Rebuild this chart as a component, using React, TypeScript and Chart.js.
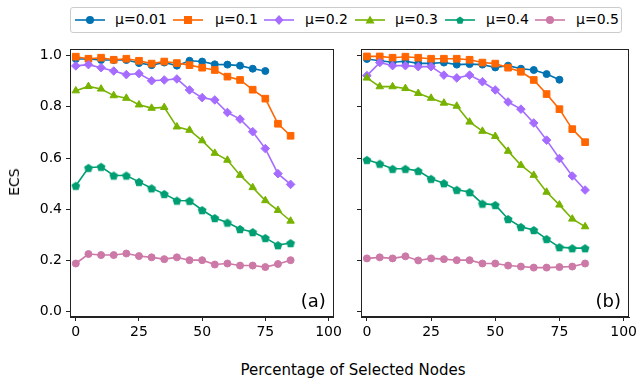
import React, { useEffect, useRef } from "react";
import { Chart, registerables } from "chart.js";

Chart.register(...registerables);

// ---------- data ----------
const PCT = [0, 5, 10, 15, 20, 25, 30, 35, 40, 45, 50, 55, 60, 65, 70, 75, 80, 85];
const X_TICKS = [0, 25, 50, 75, 100];
const Y_TICKS = [0, 0.2, 0.4, 0.6, 0.8, 1.0];
const SERIES_NAMES = ["μ=0.01", "μ=0.1", "μ=0.2", "μ=0.3", "μ=0.4", "μ=0.5"];

// panel (a)
const A_MU001 = [0.987, 0.987, 0.983, 0.983, 0.983, 0.971, 0.963, 0.973, 0.961, 0.980, 0.977, 0.966, 0.965, 0.961, 0.949, 0.940];
const A_MU01 = [0.996, 0.988, 0.992, 0.984, 0.988, 0.980, 0.969, 0.977, 0.971, 0.963, 0.953, 0.944, 0.918, 0.905, 0.867, 0.832, 0.734, 0.687];
const A_MU02 = [0.960, 0.965, 0.953, 0.940, 0.926, 0.930, 0.902, 0.905, 0.909, 0.866, 0.836, 0.827, 0.778, 0.752, 0.703, 0.637, 0.539, 0.497];
const A_MU03 = [0.863, 0.880, 0.870, 0.844, 0.834, 0.808, 0.795, 0.798, 0.722, 0.709, 0.668, 0.619, 0.592, 0.533, 0.485, 0.434, 0.396, 0.354];
const A_MU04 = [0.492, 0.562, 0.566, 0.532, 0.532, 0.507, 0.482, 0.460, 0.434, 0.433, 0.397, 0.366, 0.348, 0.323, 0.311, 0.288, 0.260, 0.268];
const A_MU05 = [0.188, 0.225, 0.221, 0.221, 0.227, 0.217, 0.212, 0.205, 0.212, 0.201, 0.201, 0.184, 0.188, 0.180, 0.180, 0.174, 0.186, 0.201];

// panel (b)
const B_MU001 = [0.987, 0.980, 0.974, 0.978, 0.970, 0.970, 0.973, 0.965, 0.967, 0.965, 0.954, 0.961, 0.949, 0.944, 0.928, 0.906];
const B_MU01 = [0.997, 0.997, 0.992, 0.996, 0.992, 0.988, 0.988, 0.988, 0.984, 0.973, 0.969, 0.953, 0.937, 0.905, 0.850, 0.791, 0.713, 0.662];
const B_MU02 = [0.922, 0.973, 0.961, 0.961, 0.957, 0.957, 0.924, 0.913, 0.924, 0.898, 0.866, 0.819, 0.791, 0.737, 0.670, 0.598, 0.530, 0.475];
const B_MU03 = [0.913, 0.879, 0.879, 0.872, 0.853, 0.834, 0.815, 0.803, 0.741, 0.705, 0.685, 0.627, 0.572, 0.533, 0.467, 0.417, 0.362, 0.332];
const B_MU04 = [0.593, 0.578, 0.558, 0.558, 0.550, 0.519, 0.502, 0.476, 0.467, 0.422, 0.417, 0.362, 0.331, 0.319, 0.284, 0.252, 0.248, 0.248];
const B_MU05 = [0.208, 0.212, 0.208, 0.216, 0.200, 0.208, 0.205, 0.201, 0.201, 0.188, 0.188, 0.180, 0.176, 0.172, 0.172, 0.174, 0.176, 0.188];

const PANEL_A = [A_MU001, A_MU01, A_MU02, A_MU03, A_MU04, A_MU05];
const PANEL_B = [B_MU001, B_MU01, B_MU02, B_MU03, B_MU04, B_MU05];

// ---------- style ----------
const COLORS = ["#0072B2", "#FF6600", "#A66CFF", "#77B300", "#009E73", "#CC79A7"];
const FONT = "'DejaVu Sans', sans-serif";
const AXIS_COLOR = "#222";

function pentagonCanvas(color: string, r: number) {
  const size = Math.ceil(2 * r + 2);
  const c = document.createElement("canvas");
  c.width = size;
  c.height = size;
  const ctx = c.getContext("2d")!;
  ctx.fillStyle = color;
  ctx.beginPath();
  for (let k = 0; k < 5; k++) {
    const a = -Math.PI / 2 + (k * 2 * Math.PI) / 5;
    const px = size / 2 + r * Math.cos(a);
    const py = size / 2 + r * Math.sin(a) + 0.5;
    if (k === 0) ctx.moveTo(px, py);
    else ctx.lineTo(px, py);
  }
  ctx.closePath();
  ctx.fill();
  return c;
}

function pointStyles(): any[] {
  return ["circle", "rect", "rectRot", "triangle", pentagonCanvas(COLORS[4], 4.6), "circle"];
}
const RADII = [3.5, 4.7, 4.3, 4.3, 4.5, 3.5];

function framePlugin(label: string) {
  return {
    id: "frame" + label,
    afterDraw(chart: any) {
      const { ctx, chartArea } = chart;
      const { left, top, right, bottom } = chartArea;
      ctx.save();
      ctx.strokeStyle = AXIS_COLOR;
      ctx.lineWidth = 1;
      ctx.strokeRect(Math.round(left) + 0.5, Math.round(top) + 0.5, Math.round(right - left) - 1, Math.round(bottom - top) - 1);
      ctx.font = "18px " + FONT;
      ctx.fillStyle = "#000";
      ctx.textAlign = "right";
      ctx.textBaseline = "middle";
      ctx.fillText(label, right - 8, bottom - 15);
      ctx.restore();
    },
  };
}

function makeChart(canvas: HTMLCanvasElement, series: number[][], label: string, showYLabels: boolean, yWidth: number, padRight: number) {
  const styles = pointStyles();
  const datasets = series.map((vals, i) => ({
    label: SERIES_NAMES[i],
    data: vals.map((v, j) => ({ x: PCT[j], y: v })),
    borderColor: COLORS[i],
    backgroundColor: COLORS[i],
    pointBackgroundColor: COLORS[i],
    pointBorderColor: COLORS[i],
    pointBorderWidth: 1,
    pointStyle: styles[i],
    pointRadius: RADII[i],
    borderWidth: 1.6,
    order: 10 - i,
    clip: false as any,
  }));
  const tickFont = { family: FONT, size: 14 };
  return new Chart(canvas, {
    type: "line",
    data: { datasets },
    options: {
      responsive: false,
      maintainAspectRatio: false,
      animation: false,
      layout: { padding: { top: 49, right: padRight, left: 0, bottom: 0 } },
      plugins: { legend: { display: false }, tooltip: { enabled: false } },
      scales: {
        x: {
          type: "linear",
          min: -2.3,
          max: 102.1,
          afterBuildTicks: (s: any) => {
            s.ticks = X_TICKS.map((v) => ({ value: v }));
          },
          afterFit: (s: any) => {
            s.height = 28;
          },
          ticks: { font: tickFont, color: "#000", padding: 3, maxRotation: 0, autoSkip: false, callback: (v: any) => String(v) },
          grid: { drawOnChartArea: false, tickLength: 4, color: AXIS_COLOR, lineWidth: 1 },
          border: { color: AXIS_COLOR, width: 1 },
        },
        y: {
          type: "linear",
          min: -0.021,
          max: 1.026,
          afterBuildTicks: (s: any) => {
            s.ticks = Y_TICKS.map((v) => ({ value: v }));
          },
          afterFit: (s: any) => {
            s.width = yWidth;
          },
          ticks: { display: showYLabels, font: tickFont, color: "#000", padding: 4, callback: (v: any) => Number(v).toFixed(1) },
          grid: { drawOnChartArea: false, tickLength: 4, color: AXIS_COLOR, lineWidth: 1 },
          border: { color: AXIS_COLOR, width: 1 },
        },
      },
    },
    plugins: [framePlugin(label)],
  } as any);
}

function LegendMarker({ i }: { i: number }) {
  const c = COLORS[i];
  const cx = 15, cy = 6;
  let shape: any = null;
  if (i === 0 || i === 5) shape = <circle cx={cx} cy={cy} r={4} fill={c} />;
  else if (i === 1) shape = <rect x={cx - 4} y={cy - 4} width={8} height={8} fill={c} />;
  else if (i === 2) shape = <polygon points={`${cx},${cy - 5} ${cx + 4.5},${cy} ${cx},${cy + 5} ${cx - 4.5},${cy}`} fill={c} />;
  else if (i === 3) shape = <polygon points={`${cx},${cy - 4.5} ${cx + 4.5},${cy + 3.5} ${cx - 4.5},${cy + 3.5}`} fill={c} />;
  else if (i === 4) {
    const pts = [0, 1, 2, 3, 4]
      .map((k) => {
        const a = -Math.PI / 2 + (k * 2 * Math.PI) / 5;
        return `${cx + 4 * Math.cos(a)},${cy + 0.5 + 4 * Math.sin(a)}`;
      })
      .join(" ");
    shape = <polygon points={pts} fill={c} />;
  }
  return (
    <svg width={30} height={12} style={{ position: "absolute", left: 0, top: 0 }}>
      <line x1={0} y1={cy} x2={30} y2={cy} stroke={c} strokeWidth={1.6} />
      {shape}
    </svg>
  );
}

const LEGEND_LINE_X = [75, 173, 264, 355, 445, 535];
const LEGEND_TEXT_X = [115, 215, 305, 395, 486, 576];

export default function App() {
  const leftRef = useRef<HTMLCanvasElement>(null);
  const rightRef = useRef<HTMLCanvasElement>(null);

  useEffect(() => {
    const a = makeChart(leftRef.current!, PANEL_A, "(a)", true, 70, 7);
    const b = makeChart(rightRef.current!, PANEL_B, "(b)", false, 16, 15);
    return () => {
      a.destroy();
      b.destroy();
    };
  }, []);

  return (
    <div style={{ position: "absolute", left: 0, top: 0, width: 644, height: 385, background: "#fff", fontFamily: FONT, overflow: "hidden" }}>
      <div
        style={{
          position: "absolute",
          left: 70,
          top: 7,
          width: 552,
          height: 26,
          border: "1px solid #cccccc",
          borderRadius: 3,
          boxSizing: "border-box",
        }}
      />
      {SERIES_NAMES.map((name, i) => (
        <React.Fragment key={name}>
          <div style={{ position: "absolute", left: LEGEND_LINE_X[i], top: 14, width: 30, height: 12 }}>
            <LegendMarker i={i} />
          </div>
          <div style={{ position: "absolute", left: LEGEND_TEXT_X[i], top: 11, fontSize: 14, lineHeight: "17px", color: "#000", whiteSpace: "nowrap" }}>{name}</div>
        </React.Fragment>
      ))}
      <canvas ref={leftRef} width={345} height={345} style={{ position: "absolute", left: 0, top: 0, width: 345, height: 345 }} />
      <canvas ref={rightRef} width={299} height={345} style={{ position: "absolute", left: 345, top: 0, width: 299, height: 345 }} />
      <div
        style={{
          position: "absolute",
          left: 14,
          top: 182,
          transform: "translate(-50%, -50%) rotate(-90deg)",
          fontSize: 14,
          color: "#000",
          whiteSpace: "nowrap",
        }}
      >
        ECS
      </div>
      <div
        style={{
          position: "absolute",
          left: 353,
          top: 370,
          transform: "translate(-50%, -50%)",
          fontSize: 15,
          color: "#000",
          whiteSpace: "nowrap",
        }}
      >
        Percentage of Selected Nodes
      </div>
    </div>
  );
}
